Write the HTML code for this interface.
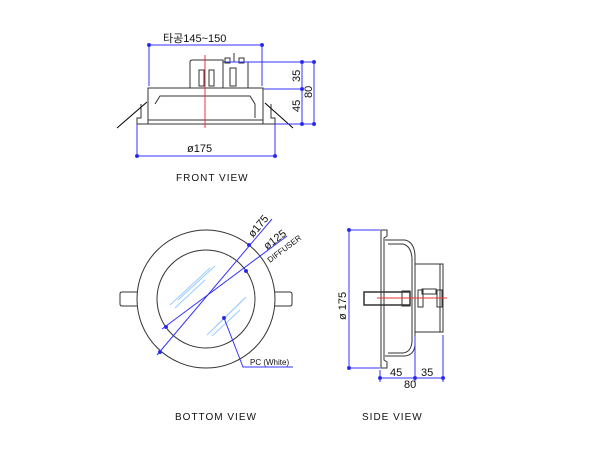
<!DOCTYPE html>
<html><head><meta charset="utf-8"><style>body{margin:0;background:#fff}svg{display:block}text{font-family:"Liberation Sans","Noto Sans CJK KR",sans-serif}</style></head><body>
<svg width="600" height="452" viewBox="0 0 600 452" xmlns="http://www.w3.org/2000/svg">
<g fill="none" stroke="#333" stroke-width="1">
<!-- FRONT VIEW -->
<path d="M190 88 V62 Q190 60 193 60 H223 V88"/>
<rect x="223" y="62" width="25" height="26"/>
<rect x="225" y="58" width="5" height="5"/><rect x="239" y="58" width="5" height="5"/>
<line x1="234" y1="53" x2="234" y2="62"/>
<rect x="199" y="70" width="5" height="16"/><rect x="209" y="70" width="5" height="16"/>
<rect x="230" y="68" width="6" height="18"/>
<path d="M148 124 V88 H263 V124"/>
<path d="M155 104 L160 96 H250 L255 104 V118"/>
<path d="M137 124 V118 L141 118 V104 M275 124 V118 L271 118 V104"/>
<line x1="137" y1="124" x2="275" y2="124"/><line x1="148" y1="120" x2="263" y2="120"/>
<line x1="117" y1="128" x2="147" y2="102" stroke="#000"/>
<line x1="293" y1="128" x2="265" y2="103" stroke="#000"/>
<!-- BOTTOM VIEW -->
<circle cx="206" cy="299" r="69"/>
<circle cx="206" cy="299" r="49"/>
<path d="M137 292 H122 Q120 292 120 294 V304 Q120 306 122 306 H137"/>
<path d="M275 292 H290 Q292 292 292 294 V304 Q292 306 290 306 H275"/>
<!-- SIDE VIEW -->
<path d="M381 230 H387 V236 L384 238 V360 L387 362 V368 H381 Z"/>
<path d="M385 240 H405 Q414 242 415 255 V345 Q414 355 405 356 H385"/>
<path d="M388 244 H403 Q411 246 412 258 V342 Q411 352 403 353 H388"/>
<rect x="415" y="264" width="28" height="68"/>
<line x1="440" y1="264" x2="440" y2="332"/>
<rect x="364" y="292" width="46" height="13" stroke-width="1.5"/>
<rect x="402" y="291" width="8" height="15"/>
<rect x="418" y="290" width="5" height="17"/><rect x="437" y="290" width="5" height="17"/>
<rect x="422" y="289" width="14" height="5"/>
</g>
<g stroke="#9cf" stroke-width="1">
<line x1="170" y1="305" x2="210" y2="268"/><line x1="175" y1="308" x2="205" y2="280"/><line x1="178" y1="300" x2="215" y2="266"/>
<line x1="207" y1="335" x2="243" y2="300"/><line x1="212" y1="336" x2="240" y2="310"/><line x1="215" y1="327" x2="246" y2="297"/>
</g>
<g stroke="#e33" stroke-width="1">
<line x1="205" y1="55" x2="205" y2="128"/>
<line x1="377" y1="298" x2="447" y2="298"/>
</g>
<g stroke="#33f" stroke-width="1" fill="#22c">
<line x1="149" y1="45" x2="263" y2="45"/><line x1="149" y1="45" x2="149" y2="86"/><line x1="262" y1="45" x2="262" y2="86"/>
<circle cx="149" cy="45" r="1.5"/><circle cx="262" cy="45" r="1.5"/>
<line x1="302" y1="62" x2="302" y2="124"/><line x1="314" y1="62" x2="314" y2="124"/>
<line x1="225" y1="62" x2="316" y2="62"/><line x1="263" y1="89" x2="304" y2="89"/><line x1="275" y1="124" x2="316" y2="124"/>
<circle cx="302" cy="62" r="1.5"/><circle cx="302" cy="89" r="1.5"/><circle cx="302" cy="124" r="1.5"/><circle cx="314" cy="62" r="1.5"/><circle cx="314" cy="124" r="1.5"/>
<line x1="137" y1="156" x2="275" y2="156"/><line x1="137" y1="124" x2="137" y2="158"/><line x1="275" y1="124" x2="275" y2="158"/>
<circle cx="137" cy="156" r="1.5"/><circle cx="275" cy="156" r="1.5"/>
<line x1="157" y1="355" x2="272" y2="219"/><line x1="162" y1="329" x2="287" y2="236"/>
<circle cx="160" cy="352" r="1.5"/><circle cx="249" cy="245" r="1.5"/><circle cx="166" cy="327" r="1.5"/><circle cx="246" cy="271" r="1.5"/>
<polyline fill="none" points="224,318 243,367 293,367"/><circle cx="224" cy="318" r="1.5"/>
<line x1="349" y1="230" x2="349" y2="368"/><line x1="349" y1="230" x2="380" y2="230"/><line x1="349" y1="368" x2="380" y2="368"/>
<circle cx="349" cy="230" r="1.5"/><circle cx="349" cy="368" r="1.5"/>
<line x1="380" y1="378" x2="443" y2="378"/><line x1="380" y1="370" x2="380" y2="382"/><line x1="415" y1="336" x2="415" y2="382"/><line x1="443" y1="335" x2="443" y2="382"/>
<circle cx="380" cy="378" r="1.5"/><circle cx="415" cy="378" r="1.5"/><circle cx="443" cy="378" r="1.5"/>
</g>
<g fill="#111" font-size="11">
<text x="163" y="42">타공145~150</text>
<text x="187" y="152">ø175</text>
<text transform="translate(300 82) rotate(-90)">35</text>
<text transform="translate(300 112) rotate(-90)">45</text>
<text transform="translate(312 98) rotate(-90)">80</text>
<text x="176" y="181" font-size="10" letter-spacing="1">FRONT  VIEW</text>
<text transform="translate(253 238) rotate(-50)">ø175</text>
<text transform="translate(267 250) rotate(-37)">ø125</text>
<text transform="translate(270 263) rotate(-37)" font-size="8">DIFFUSER</text>
<text x="250" y="365" font-size="8">PC (White)</text>
<text x="175" y="420" font-size="10" letter-spacing="1">BOTTOM  VIEW</text>
<text transform="translate(346 320) rotate(-90)">ø 175</text>
<text x="390" y="376">45</text><text x="421" y="376">35</text><text x="404" y="388">80</text>
<text x="362" y="420" font-size="10" letter-spacing="1">SIDE  VIEW</text>
</g>
</svg>
</body></html>
